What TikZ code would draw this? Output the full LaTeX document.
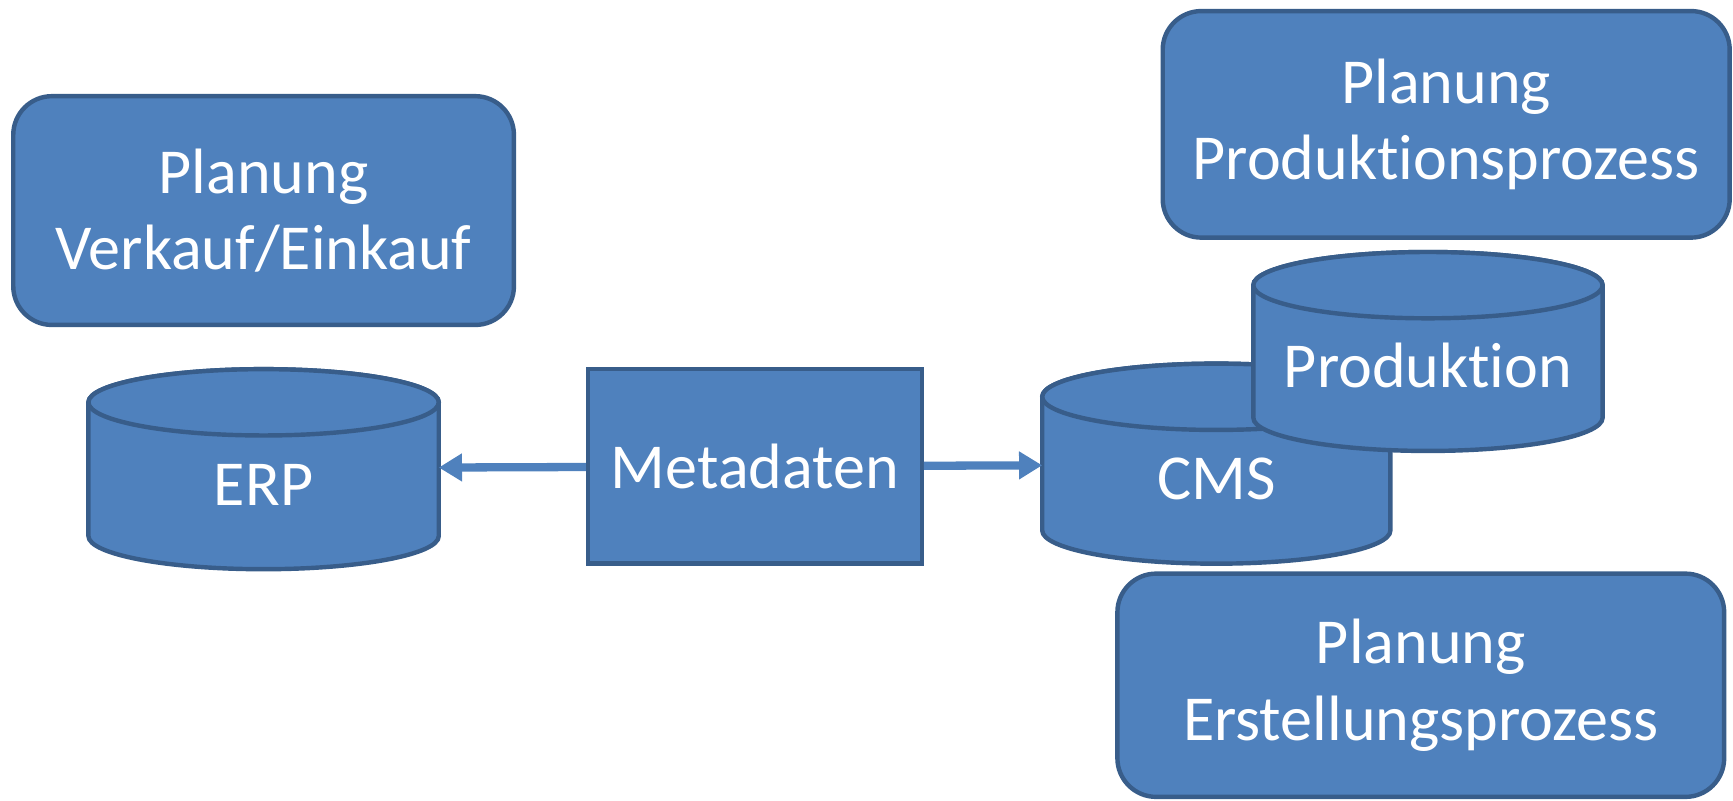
\documentclass[tikz,border=0pt]{standalone}
\usepackage{fontspec}
\setmainfont{Carlito}[Ligatures=NoCommon]
\usetikzlibrary{arrows.meta}
\definecolor{bfill}{HTML}{4F81BD}
\definecolor{bline}{HTML}{385D8A}
\newcommand{\cylbody}[5]{% left, right, top-centre y, bottom-centre y, x radius (pt)
  \filldraw[cylstyle] (#1,#3) -- (#1,#4) arc[start angle=180, end angle=360, x radius=#5, y radius=15pt]
    -- (#2,#3) arc[start angle=0, end angle=180, x radius=#5, y radius=15pt] -- cycle;
  \draw[cylstyle] ({(#1+#2)/2},#3) ellipse[x radius=#5, y radius=15pt];
}
\begin{document}
\begin{tikzpicture}[x=0.5pt,y=-0.5pt,
  cylstyle/.style={fill=bfill, draw=bline, line width=2pt},
  lbl/.style={text=white, font=\fontsize{29}{34.5}\selectfont, inner sep=0pt},
  rbox/.style={fill=bfill, draw=bline, line width=2pt, rounded corners=17.5pt, text=white,
    align=center, font=\fontsize{29}{34.5}\selectfont, inner sep=0pt},
  sbox/.style={fill=bfill, draw=bline, line width=2pt, text=white,
    align=center, font=\fontsize{29}{34.5}\selectfont, inner sep=0pt},
  arr/.style={draw=bfill, line width=3.75pt, -{Triangle[length=10.5pt, width=12pt]}}]
\useasboundingbox (0,0) rectangle (1568,724);

% Planung Verkauf/Einkauf
\node[rbox, minimum width=226.5pt, minimum height=103.5pt] (pve) at (238.5,190.5) {Planung\\Verkauf/Einkauf};

% ERP cylinder
\cylbody{80}{397}{364}{485}{79.25pt}
\node[lbl, anchor=base] (erp) at (238.5,457) {ERP};
\coordinate (erpE) at (397,423);

% Metadaten
\node[sbox, minimum width=151pt, minimum height=88pt] (md) at (683,422) {Metadaten};

% CMS cylinder
\cylbody{943}{1258}{359}{480}{78.75pt}
\node[lbl, anchor=base] (cms) at (1100.5,452) {CMS};
\coordinate (cmsW) at (943,421);

% Produktion cylinder
\cylbody{1134}{1450}{258}{378}{79pt}
\node[lbl, anchor=base] (prod) at (1292,351) {Produktion};

% Planung Produktionsprozess
\node[rbox, minimum width=256.5pt, minimum height=102.5pt] (ppp) at (1308.5,112.5) {Planung\\Produktionsprozess};

% Planung Erstellungsprozess
\node[rbox, minimum width=274.5pt, minimum height=101pt] (pep) at (1285.5,620) {Planung\\Erstellungsprozess};

% connectors
\draw[arr] (md) -- (erpE);
\draw[arr] (md) -- (cmsW);
\end{tikzpicture}
\end{document}
